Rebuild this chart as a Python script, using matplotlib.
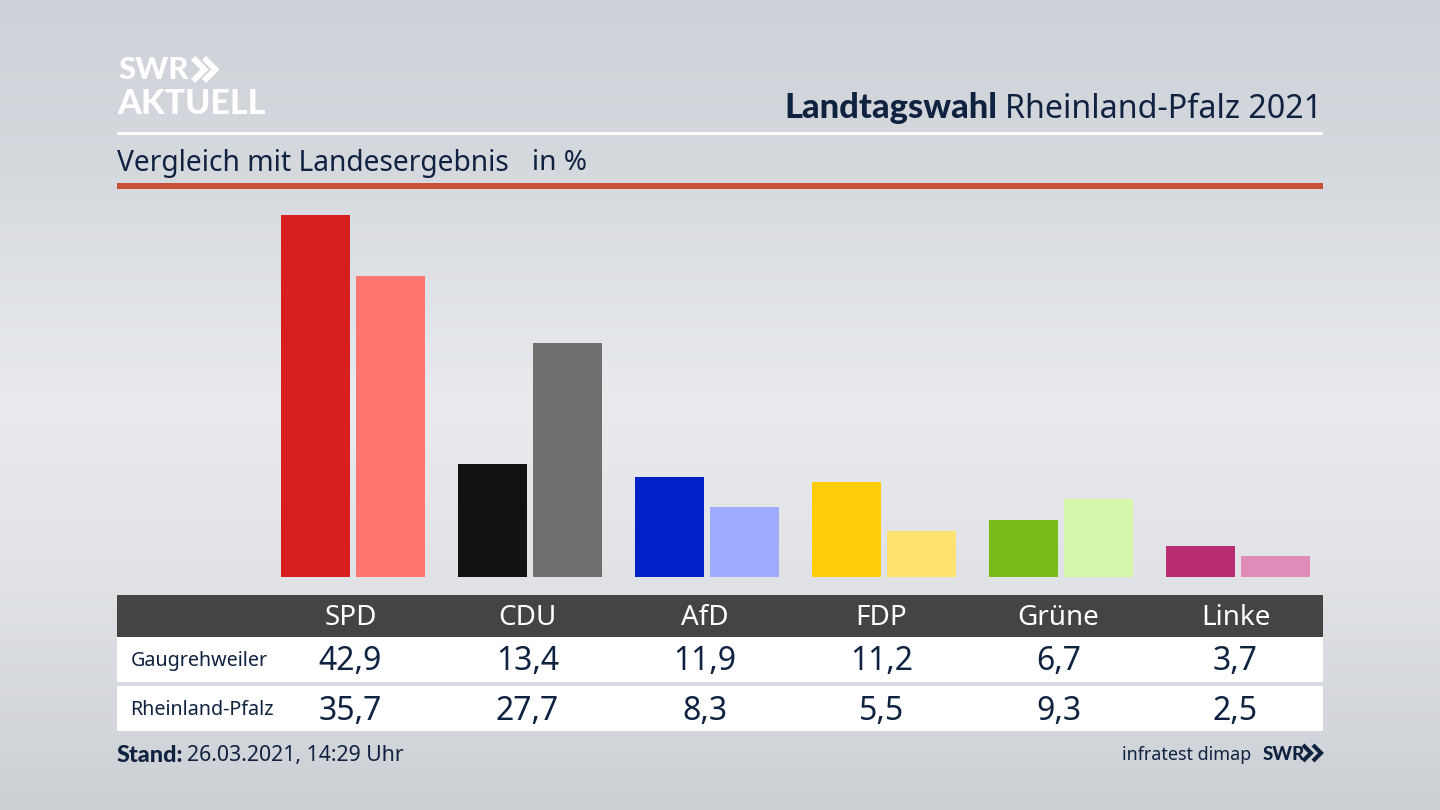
import numpy as np
import matplotlib
matplotlib.use("Agg")
import matplotlib.pyplot as plt
from matplotlib.patches import Rectangle
from matplotlib.colors import LinearSegmentedColormap

parties = ["SPD", "CDU", "AfD", "FDP", "Grüne", "Linke"]
gaugrehweiler = [42.9, 13.4, 11.9, 11.2, 6.7, 3.7]
rheinland_pfalz = [35.7, 27.7, 8.3, 5.5, 9.3, 2.5]
row_names = ["Gaugrehweiler", "Rheinland-Pfalz"]
colors_local = ["#d81f1f", "#121212", "#0021c8", "#ffcd0a", "#78bc1b", "#b92d74"]
colors_state = ["#ff7570", "#706f6d", "#9eabff", "#ffe26f", "#d5f7ab", "#e08cb9"]

NAVY = "#0f2240"
FONT = "Noto Sans"
BOLD = "Lato"
plt.rcParams["font.family"] = [FONT, "DejaVu Sans"]

W, H = 1440, 810
fig = plt.figure(figsize=(W / 100, H / 100), dpi=100)

ov = fig.add_axes([0, 0, 1, 1], zorder=0)
ov.set_xlim(0, W)
ov.set_ylim(H, 0)
ov.axis("off")

cmap = LinearSegmentedColormap.from_list(
    "bg", [(0, "#ced1d7"), (0.2, "#d5d8dd"), (0.5, "#e9ebef"), (0.72, "#e0e2e6"), (1, "#cccfd4")]
)
ov.imshow(np.linspace(0, 1, 256)[:, None], cmap=cmap, aspect="auto", extent=(0, W, H, 0), zorder=0)


def rect(x0, y0, x1, y1, c, z=1):
    ov.add_patch(Rectangle((x0, y0), x1 - x0, y1 - y0, fc=c, ec="none", zorder=z))


def chevrons(x, y, h, c, lw, gap=0.95):
    w = h * 0.5
    for dx in (0, w * gap):
        ov.plot([x + dx, x + dx + w, x + dx], [y, y + h / 2, y + h], color=c, lw=lw,
                solid_joinstyle="miter", solid_capstyle="butt", zorder=4)


def txt(x, y, s, c=NAVY, size=20, ha="left", bold=False):
    ov.text(x, y, s, color=c, fontsize=size, family=BOLD if bold else FONT,
            fontweight="black" if bold else "normal", ha=ha, va="center", zorder=3)


rect(117, 132, 1323, 135, "white")
rect(117, 183, 1323, 189, "#cb5038")
rect(117, 595, 1323, 637, "#444443")
rect(117, 637, 1323, 682, "white")
rect(117, 686, 1323, 731, "white")

# logo
txt(118, 70, "SWR", "white", 22.5, bold=True)
chevrons(193, 58, 23, "white", 4.2)
txt(117, 104, "AKTUELL", "white", 24.5, bold=True)

# title
txt(1322, 109.5, "Rheinland-Pfalz 2021", size=23.2, ha="right")
txt(997, 108, "Landtagswahl", size=24.8, ha="right", bold=True)
txt(117, 163, "Vergleich mit Landesergebnis", size=20.3)
txt(532, 163, "in %", size=20.2)

# bars
ax = fig.add_axes([117 / W, 1 - 577 / H, (1323 - 117) / W, (577 - 190) / H], zorder=2)
ax.patch.set_alpha(0)
step = 177.0
ax.set_xlim((117 - 353) / step, (1323 - 353) / step)
ax.set_ylim(0, 387 / 8.44)
ax.axis("off")
x = np.arange(len(parties))
bw = 69 / step
off = 37.5 / step
ax.bar(x - off, gaugrehweiler, width=bw, color=colors_local)
ax.bar(x + off, rheinland_pfalz, width=bw, color=colors_state)

# table
centers = 350.5 + x * step
for cx, p, a, b in zip(centers, parties, gaugrehweiler, rheinland_pfalz):
    txt(cx, 618, p, "white", 20, ha="center")
    txt(cx, 662, f"{a:.1f}".replace(".", ","), size=23, ha="center")
    txt(cx, 711, f"{b:.1f}".replace(".", ","), size=23, ha="center")
txt(131, 661, row_names[0], size=14.2)
txt(130, 710, row_names[1], size=14.2)

# footer
txt(117, 755, "Stand:", size=16.8, bold=True)
txt(187, 756, "26.03.2021, 14:29 Uhr", size=15.3)
txt(1251, 755, "infratest dimap", size=12.9, ha="right")
txt(1263, 754, "SWR", size=13.5, bold=True)
chevrons(1303, 745, 16, NAVY, 3.0, gap=1.25)

fig.savefig("out.png", dpi=100)
